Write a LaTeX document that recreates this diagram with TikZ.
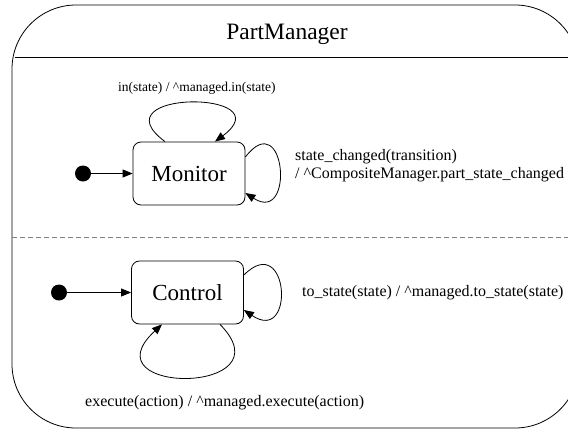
\documentclass[tikz,border=0pt]{standalone}
\usepackage{fontspec}
\setmainfont{Liberation Serif}
\usetikzlibrary{arrows.meta,calc}
\begin{document}
\begin{tikzpicture}[x=1pt,y=-1pt,
  stbox/.style={draw,line width=0.8pt,rounded corners=8pt,minimum width=112pt,
    minimum height=63pt,inner sep=0pt,font=\fontsize{23}{27}\selectfont},
  initdot/.style={circle,fill=black,inner sep=0pt,minimum size=16pt},
  trans/.style={line width=0.8pt,-{Triangle[length=10pt,width=8pt]}},
  lbl/.style={font=\fontsize{16}{18}\selectfont,inner sep=0pt,align=left},
  frame/.style={line width=0.8pt}]
\useasboundingbox (0,0) rectangle (568,429);

% composite state outline, title compartment and region separator
\begin{scope}
  \clip (0,0) rectangle (568,429);
  \draw[frame,rounded corners=64pt] (12,5) rectangle (579,428);
  \draw[frame] (15,57) -- (579,57);
  \draw[line width=1pt,gray,dash pattern=on 5pt off 3pt] (12,237) -- (579,237);
\end{scope}
\node[font=\fontsize{23.5}{27}\selectfont] (title) at (287,34) {PartManager};

% upper region
\node[stbox] (mon) at (189,173.5) {Monitor};
\node[initdot] (m0) at (83,173.5) {};
\draw[trans] (m0) -- (mon);
\draw[trans] ($(mon.north)+(-24,0)$) .. controls +(-70,-52) and +(70,-52) .. ($(mon.north)+(26,0)$);
\draw[trans] ($(mon.east)+(0,-16.5)$) .. controls +(40,-52) and +(50,32) .. ($(mon.east)+(0,19.5)$);
\node[lbl,font=\fontsize{13.5}{16}\selectfont,anchor=west] (lin) at (118,88) {in(state) / \^{}managed.in(state)};
\node[lbl,anchor=west] (lchg) at (295,166) {state\_changed(transition)\\/ \^{}CompositeManager.part\_state\_changed};

% lower region
\node[stbox] (ctl) at (187.5,292.5) {Control};
\node[initdot] (c0) at (59,292.5) {};
\draw[trans] (c0) -- (ctl);
\draw[trans] ($(ctl.east)+(0,-17.5)$) .. controls +(45,-45) and +(52,35) .. ($(ctl.east)+(0,17.5)$);
\draw[trans] ($(ctl.south)+(32.5,0)$) .. controls +(70,71) and +(-77,71) .. ($(ctl.south)+(-25.5,0)$);
\node[lbl,anchor=west] (lto) at (302,293) {to\_state(state) / \^{}managed.to\_state(state)};
\node[lbl,anchor=west] (lexe) at (85,403) {execute(action) / \^{}managed.execute(action)};
\end{tikzpicture}
\end{document}
